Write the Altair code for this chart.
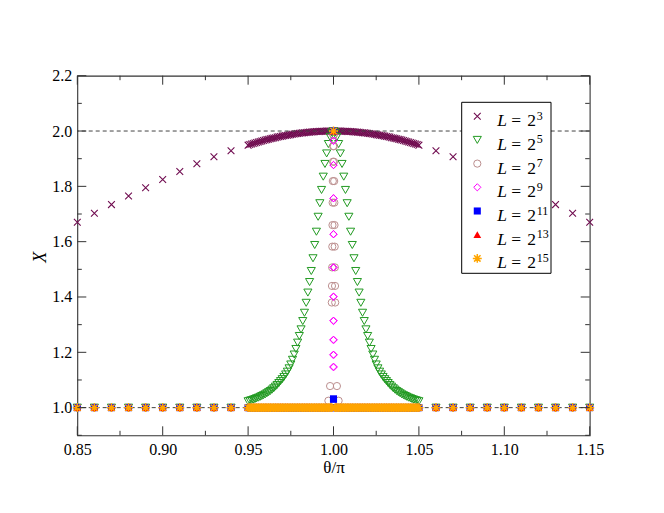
import altair as alt
import pandas as pd

# ---------------- data ----------------
OUTER_X = [0.85, 0.86, 0.87, 0.88, 0.89, 0.90, 0.91, 0.92, 0.93, 0.94,
           1.06, 1.07, 1.08, 1.09, 1.10, 1.11, 1.12, 1.13, 1.14, 1.15]
# dense sampling near theta/pi = 1: offsets d = |theta/pi - 1|
DENSE_D = [round(0.001 * k, 3) for k in range(51)]

L8_OUTER = [1.670, 1.703, 1.734, 1.765, 1.795, 1.825, 1.854, 1.882, 1.907, 1.929,
            1.929, 1.907, 1.882, 1.854, 1.825, 1.795, 1.765, 1.734, 1.703, 1.670]
L8_HALF = [2.000, 2.000, 2.000, 1.9998, 1.9997, 1.9995, 1.9993, 1.9990, 1.9987, 1.9983,
           1.9980, 1.9975, 1.9970, 1.9966, 1.9960, 1.9954, 1.9948, 1.9941, 1.9934, 1.9926,
           1.9918, 1.9910, 1.9900, 1.9890, 1.9880, 1.9870, 1.9860, 1.9850, 1.9840, 1.9830,
           1.9816, 1.9800, 1.9790, 1.9780, 1.9760, 1.9750, 1.9735, 1.9720, 1.9705, 1.9690,
           1.9673, 1.9657, 1.9640, 1.9623, 1.9605, 1.9587, 1.9568, 1.9549, 1.9530, 1.9510, 1.9490]

L32_HALF = [2.000, 1.995, 1.979, 1.953, 1.919, 1.881, 1.835, 1.787, 1.739, 1.690,
            1.636, 1.588, 1.540, 1.494, 1.454, 1.416, 1.379, 1.343, 1.313, 1.283,
            1.259, 1.235, 1.212, 1.192, 1.173, 1.156, 1.142, 1.130, 1.120, 1.111,
            1.103, 1.096, 1.089, 1.082, 1.076, 1.070, 1.065, 1.060, 1.056, 1.052,
            1.048, 1.045, 1.042, 1.039, 1.036, 1.034, 1.031, 1.029, 1.027, 1.025, 1.023]

FLAT_OUTER = [1.0] * 20
L128_HALF = [2.000, 1.380, 1.078, 1.025] + [1.0] * 47
L128_FINE_D = [0.0001, 0.0002, 0.0003, 0.0004, 0.0005, 0.0006, 0.0007, 0.0008, 0.0009]
L128_FINE = [1.985, 1.945, 1.889, 1.819, 1.741, 1.660, 1.582, 1.507, 1.440]

L512_HALF = [2.000] + [1.0] * 50
L512_FINE_D = [0.00002, 0.00004, 0.00006, 0.00008, 0.00010,
               0.00012, 0.00014, 0.00016, 0.00018, 0.00020]
L512_FINE = [1.965, 1.877, 1.757, 1.627, 1.507, 1.401, 1.314, 1.245, 1.191, 1.147]

L2048_HALF = [2.000] + [1.0] * 50
L2048_FINE_D = [0.00002]
L2048_FINE = [1.031]

L8192_HALF = [2.000] + [1.0] * 50
L32768_HALF = [2.000] + [1.0] * 50

EXPONENTS = ["3", "5", "7", "9", "11", "13", "15"]

X_MAJOR = [0.85, 0.90, 0.95, 1.00, 1.05, 1.10, 1.15]
X_MINOR = [0.875, 0.925, 0.975, 1.025, 1.075, 1.125]
Y_MAJOR = [1.0, 1.2, 1.4, 1.6, 1.8, 2.0, 2.2]
Y_MINOR = [0.9, 1.1, 1.3, 1.5, 1.7, 1.9, 2.1]
REF_LINES = [1.0, 2.0]


def mirror(ds, vs):
    xs, ys = [], []
    for d, v in zip(ds, vs):
        if d == 0:
            xs.append(1.0)
            ys.append(v)
        else:
            xs += [round(1.0 - d, 6), round(1.0 + d, 6)]
            ys += [v, v]
    return xs, ys


def series(outer, half, fine_d=(), fine=()):
    xs = list(OUTER_X)
    ys = list(outer)
    a, b = mirror(DENSE_D, half)
    xs += a
    ys += b
    if fine_d:
        a, b = mirror(fine_d, fine)
        xs += a
        ys += b
    return pd.DataFrame({"x": xs, "y": ys})


W, H = 512.4, 359.6
FONT = "Liberation Serif"
XS = alt.Scale(domain=[0.85, 1.15], nice=False, zero=False)
YS = alt.Scale(domain=[0.9, 2.2], nice=False, zero=False)

XAXIS = alt.Axis(values=X_MAJOR, format=".2f", title="θ/π", grid=False, ticks=False,
                 tickSize=0, domain=False, labelFont=FONT, labelFontSize=16,
                 labelColor="black", labelPadding=6, labelFlush=False, labelOverlap=False,
                 titleFont=FONT, titleFontSize=17, titleFontWeight="normal",
                 titleColor="black", titleY=32, titleBaseline="middle")
YAXIS = alt.Axis(values=Y_MAJOR, format=".1f", title="X", grid=False, ticks=False,
                 tickSize=0, domain=False, labelFont=FONT, labelFontSize=16,
                 labelColor="black", labelPadding=5.5, labelFlush=False, labelOverlap=False,
                 titleFont=FONT, titleFontSize=18, titleFontWeight="normal",
                 titleFontStyle="italic", titleColor="black", titleX=-37, titleY=181,
                 titleBaseline="middle", titleAlign="center")


def X(f="x"):
    return alt.X(f + ":Q", scale=XS, axis=XAXIS)


def Y(f="y"):
    return alt.Y(f + ":Q", scale=YS, axis=YAXIS)


X_PATH = "M-1,-1L1,1M-1,1L1,-1"
STAR_PATH = "M0,-1L0,1M-1,0L1,0M-0.72,-0.72L0.72,0.72M-0.72,0.72L0.72,-0.72"

STYLES = [
    dict(shape=X_PATH, color="#700c50", filled=False, size=46, sw=1.1),
    dict(shape="triangle-down", color="#229a22", filled=False, size=66, sw=1.0),
    dict(shape="circle", color="#bc8f8f", filled=False, size=52, sw=1.0),
    dict(shape="diamond", color="#ff00ff", filled=False, size=52, sw=1.0),
    dict(shape="square", color="#0000ff", filled=True, size=50, sw=1.0),
    dict(shape="triangle-up", color="#ff0000", filled=True, size=60, sw=1.0),
    dict(shape=STAR_PATH, color="#ffa500", filled=False, size=80, sw=1.5),
]

DATA = [
    series(L8_OUTER, L8_HALF),
    series(FLAT_OUTER, L32_HALF),
    series(FLAT_OUTER, L128_HALF, L128_FINE_D, L128_FINE),
    series(FLAT_OUTER, L512_HALF, L512_FINE_D, L512_FINE),
    series(FLAT_OUTER, L2048_HALF, L2048_FINE_D, L2048_FINE),
    series(FLAT_OUTER, L8192_HALF),
    series(FLAT_OUTER, L32768_HALF),
]


def pkw(st):
    if st["filled"]:
        return dict(shape=st["shape"], filled=True, fill=st["color"], color=st["color"],
                    size=st["size"], opacity=1, strokeWidth=0)
    return dict(shape=st["shape"], filled=False, stroke=st["color"], color=st["color"],
                size=st["size"], opacity=1, strokeWidth=st["sw"])


layers = []
# L = 2^3 first
layers.append(alt.Chart(DATA[0]).mark_point(**pkw(STYLES[0])).encode(x=X(), y=Y()))
# dashed reference lines
layers.append(alt.Chart(pd.DataFrame({"y": REF_LINES})).mark_rule(
    color="#444444", strokeWidth=1, strokeDash=[4, 3]).encode(y=Y()))
for d, st in zip(DATA[1:], STYLES[1:]):
    layers.append(alt.Chart(d).mark_point(**pkw(st)).encode(x=X(), y=Y()))

# inward ticks on all four sides
TC = "#333333"
for vals, ln in ((X_MAJOR, 9), (X_MINOR, 4.5)):
    df = pd.DataFrame({"x": vals})
    layers.append(alt.Chart(df).mark_rule(color=TC, strokeWidth=1).encode(
        x=X(), y=alt.value(H), y2=alt.value(H - ln)))
    layers.append(alt.Chart(df).mark_rule(color=TC, strokeWidth=1).encode(
        x=X(), y=alt.value(0), y2=alt.value(ln)))
for vals, ln in ((Y_MAJOR, 9), (Y_MINOR, 4.5)):
    df = pd.DataFrame({"y": vals})
    layers.append(alt.Chart(df).mark_rule(color=TC, strokeWidth=1).encode(
        y=Y(), x=alt.value(0), x2=alt.value(ln)))
    layers.append(alt.Chart(df).mark_rule(color=TC, strokeWidth=1).encode(
        y=Y(), x=alt.value(W), x2=alt.value(W - ln)))

# legend
one = pd.DataFrame({"a": [0]})
layers.append(alt.Chart(one).mark_rect(fill="white", stroke="black", strokeWidth=1).encode(
    x=alt.value(384.4), x2=alt.value(473.7), y=alt.value(26.6), y2=alt.value(197.6)))


def py_to_y(py):
    return 2.2 - py / H * 1.3


ROW0, ROWSTEP = 40.5, 23.7
for i, st in enumerate(STYLES):
    df = pd.DataFrame({"y": [py_to_y(ROW0 + ROWSTEP * i)]})
    layers.append(alt.Chart(df).mark_point(**pkw(st)).encode(x=alt.value(400), y=Y()))

leg = pd.DataFrame({
    "e": EXPONENTS,
    "yb": [py_to_y(ROW0 + ROWSTEP * i + 10) for i in range(len(EXPONENTS))],
    "ys": [py_to_y(ROW0 + ROWSTEP * i + 3.5) for i in range(len(EXPONENTS))],
    "L": ["L"] * len(EXPONENTS),
    "eq": ["="] * len(EXPONENTS),
    "two": ["2"] * len(EXPONENTS),
})
txt = dict(font=FONT, fontSize=17.5, color="black", align="left", baseline="alphabetic")
layers.append(alt.Chart(leg).mark_text(fontStyle="italic", **txt).encode(
    x=alt.value(420), y=Y("yb"), text="L:N"))
layers.append(alt.Chart(leg).mark_text(**txt).encode(
    x=alt.value(434), y=Y("yb"), text="eq:N"))
layers.append(alt.Chart(leg).mark_text(**txt).encode(
    x=alt.value(450), y=Y("yb"), text="two:N"))
layers.append(alt.Chart(leg).mark_text(font=FONT, fontSize=12, color="black",
                                       align="left", baseline="alphabetic").encode(
    x=alt.value(459.4), y=Y("ys"), text="e:N"))

chart = alt.layer(*layers).properties(
    width=W, height=H,
    autosize=alt.AutoSizeParams(type="none"),
    padding={"left": 69.3, "top": 67.7, "right": 66.3, "bottom": 69.7},
    background="white",
).configure_view(stroke="#333333", strokeWidth=1.1)

chart.save("out.html", embed_options={"renderer": "svg", "actions": False})
